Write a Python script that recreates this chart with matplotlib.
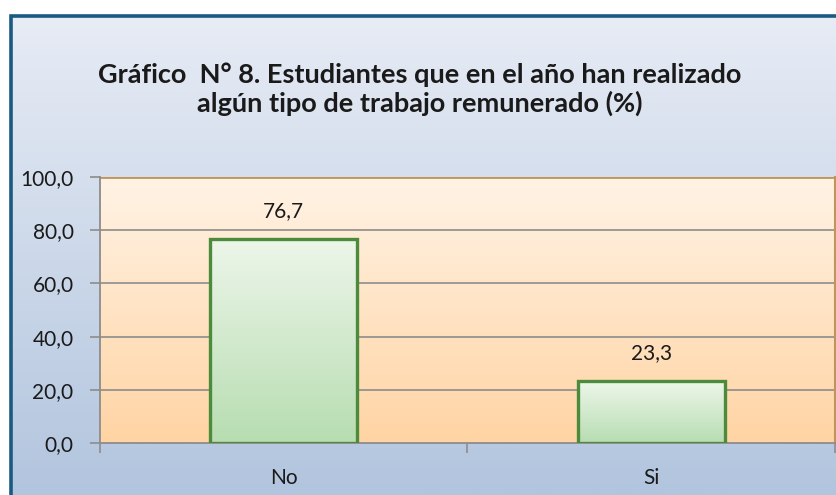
import numpy as np
import matplotlib
matplotlib.use("Agg")
import matplotlib.pyplot as plt
from matplotlib.colors import LinearSegmentedColormap
from matplotlib.patches import Rectangle

# Data
categories = ["No", "Si"]
values = [76.7, 23.3]
y_ticks = [0, 20, 40, 60, 80, 100]
title = "Gráfico  N° 8. Estudiantes que en el año han realizado\nalgún tipo de trabajo remunerado (%)"

plt.rcParams["font.family"] = ["Lato", "DejaVu Sans"]

W, H = 837, 495
fig = plt.figure(figsize=(W / 100, H / 100), dpi=100)
fig.patch.set_facecolor("white")

# outer chart background with blue gradient and dark border
x0, y_top = 11 / W, 1 - 16 / H
bg = fig.add_axes([x0, 0, 1 - x0, y_top])
bg.set_axis_off()
blue = LinearSegmentedColormap.from_list("blue", ["#B2C5DE", "#E7ECF5"])
grad = np.linspace(0, 1, 256).reshape(-1, 1)
bg.imshow(grad, cmap=blue, aspect="auto", origin="lower", extent=(0, 1, 0, 1))
bg.set_xlim(0, 1)
bg.set_ylim(0, 1)
fig.add_artist(Rectangle((x0, -0.1), 1.2, y_top + 0.1, transform=fig.transFigure,
                         facecolor="none", edgecolor="#1B5A80", linewidth=2.6, zorder=5))

fig.text(0.502, 1 - 89 / H, title, ha="center", va="center", fontsize=19.5,
         fontweight="bold", color="#1a1a1a", linespacing=1.15)

# plot area
ax = fig.add_axes([100 / W, 52 / H, 735 / W, 266 / H])
orange = LinearSegmentedColormap.from_list("orange", ["#FFD4A4", "#FFF3E5"])
ax.imshow(grad, cmap=orange, aspect="auto", origin="lower", extent=(0, 1, 0, 1),
          transform=ax.transAxes, zorder=0)

x = np.arange(len(categories))

for yv in y_ticks[1:-1]:
    ax.axhline(yv, color="#8C8C8C", linewidth=1.2, zorder=1)
ax.axhline(100, color="#C0955A", linewidth=2, zorder=1)

green = LinearSegmentedColormap.from_list("green", ["#B7DDB1", "#EDF6EA"])
bw = 0.4
for xi, v in zip(x, values):
    ax.imshow(grad, cmap=green, aspect="auto", origin="lower",
              extent=(xi - bw / 2, xi + bw / 2, 0, v), zorder=2)
    ax.add_patch(Rectangle((xi - bw / 2, 0), bw, v, facecolor="none",
                           edgecolor="#4C8A3C", linewidth=2.4, zorder=3))
    ax.annotate(f"{v:.1f}".replace(".", ","), (xi, v), xytext=(0, 20),
                textcoords="offset points", ha="center", va="center",
                fontsize=15, color="#1a1a1a")

ax.set_xlim(-0.5, len(categories) - 0.5)
ax.set_ylim(0, 100)

ax.spines["top"].set_visible(False)
ax.spines["right"].set_color("#C0955A")
ax.spines["right"].set_linewidth(1.5)
ax.spines["left"].set_color("#8C8C8C")
ax.spines["bottom"].set_color("#8C8C8C")
ax.spines["left"].set_linewidth(1.3)
ax.spines["bottom"].set_linewidth(1.3)

ax.set_yticks(y_ticks)
ax.set_yticklabels([f"{t:.1f}".replace(".", ",") for t in y_ticks])
ax.tick_params(axis="y", length=7, width=1.2, color="#8C8C8C", pad=12,
               labelsize=15, labelcolor="#1a1a1a")

ax.set_xticks(x)
ax.set_xticklabels(categories)
ax.set_xticks(np.arange(-0.5, len(categories)), minor=True)
ax.tick_params(axis="x", which="major", length=0, pad=18, labelsize=15,
               labelcolor="#1a1a1a")
ax.tick_params(axis="x", which="minor", length=7, width=1.2, color="#8C8C8C")

fig.savefig("out.png", dpi=100)
